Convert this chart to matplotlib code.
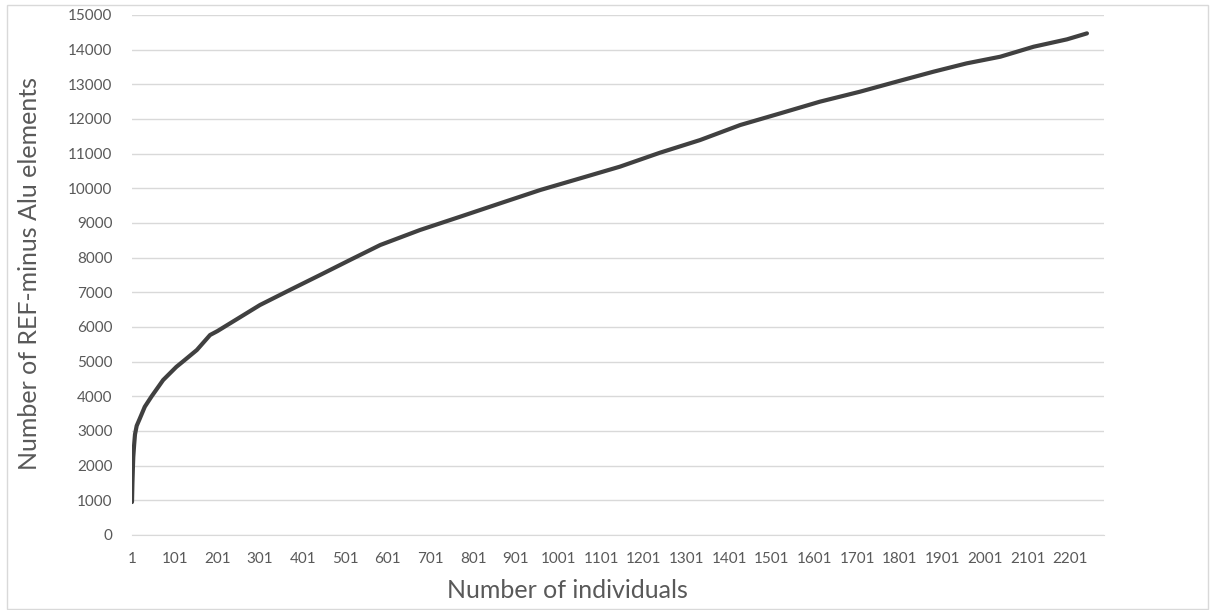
import matplotlib.pyplot as plt
from matplotlib.patches import Rectangle

# estimated points
individuals = [1, 2, 3, 4, 6, 8, 12, 19, 31, 47, 74, 105, 120, 153, 184, 201,
               231, 301, 371, 442, 512, 583, 676, 770, 864, 958, 1052, 1145,
               1239, 1333, 1427, 1521, 1614, 1708, 1802, 1880, 1958, 2037,
               2115, 2193, 2240]
alu_count = [950, 1500, 1900, 2250, 2600, 2900, 3150, 3350, 3700, 4000, 4470,
             4850, 5000, 5336, 5769, 5880, 6106, 6634, 7067, 7500, 7932, 8365,
             8797, 9180, 9567, 9951, 10289, 10625, 11028, 11393, 11826, 12163,
             12500, 12788, 13105, 13364, 13605, 13797, 14085, 14297, 14470]
x_ticks = list(range(1, 2202, 100))
y_ticks = list(range(0, 15001, 1000))

plt.rcParams['font.family'] = ['Lato', 'DejaVu Sans']

fig = plt.figure(figsize=(12.14, 6.10), dpi=100)
ax = fig.add_axes([132 / 1214, 1 - 535 / 610, (1104 - 132) / 1214, (535 - 15) / 610])

ax.plot(individuals, alu_count, color='#404040', lw=3, solid_capstyle='round')

ax.set_xlim(1, 2280)
ax.set_ylim(0, 15000)
ax.set_xticks(x_ticks)
ax.set_xticklabels([str(t) for t in x_ticks])
ax.set_yticks(y_ticks)
ax.tick_params(axis='both', length=0, labelsize=11, labelcolor='#595959')
ax.tick_params(axis='x', pad=12)
ax.tick_params(axis='y', pad=14)
ax.grid(axis='y', color='#d9d9d9', lw=1)
ax.set_axisbelow(True)
for s in ['top', 'right', 'left']:
    ax.spines[s].set_visible(False)
ax.spines['bottom'].set_color('#d9d9d9')

fig.text(567 / 1214, 1 - 590 / 610, 'Number of individuals',
         ha='center', va='center', fontsize=18, color='#595959')
fig.text(30 / 1214, 1 - 274 / 610, 'Number of REF-minus Alu elements',
         ha='center', va='center', rotation=90, fontsize=18, color='#595959')

fig.patches.append(Rectangle((7 / 1214, 1 - 609 / 610), 1201 / 1214, 604 / 610,
                             transform=fig.transFigure, fill=False,
                             edgecolor='#d9d9d9', lw=1))

fig.savefig('out.png', dpi=100)
